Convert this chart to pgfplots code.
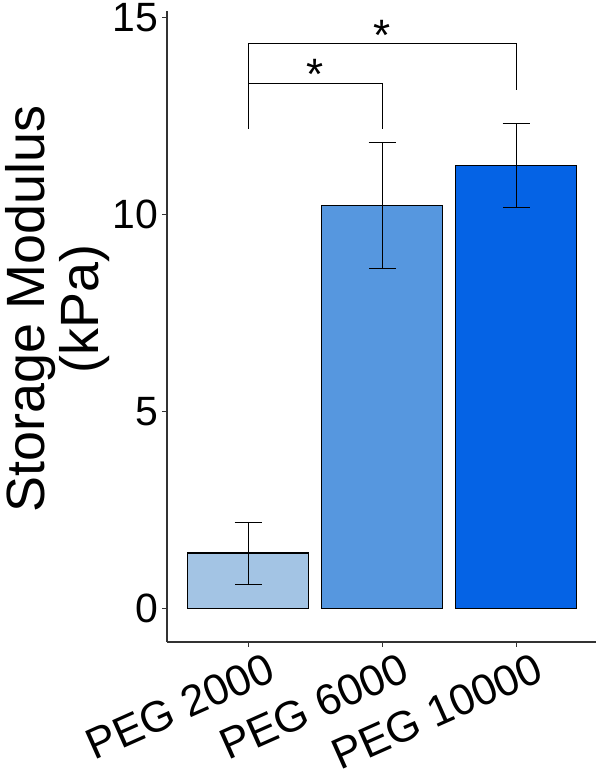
\documentclass[border=0pt]{standalone}
\usepackage{pgfplots}
\pgfplotsset{compat=1.18}
\usepackage{fontspec}
\setmainfont{Liberation Sans}
\definecolor{b1}{HTML}{A3C4E4}
\definecolor{b2}{HTML}{5697DF}
\definecolor{b3}{HTML}{0563E5}
\definecolor{axgray}{HTML}{333333}
\begin{document}
\begin{tikzpicture}
\begin{axis}[
 scale only axis, width=429.4pt, height=631.7pt,
 xmin=-0.605, xmax=2.593, ymin=-0.846, ymax=15.16,
 axis x line=bottom, axis y line=left,
 axis line style={-, axgray, line width=1.5pt},
 xtick={0,1,2}, xticklabels={PEG 2000,PEG 6000,PEG 10000},
 ytick={0,5,10,15},
 tick align=outside, major tick length=5pt, tick style={axgray, line width=1pt},
 /pgf/number format/assume math mode=true,
 yticklabel style={font=\fontsize{41}{41}\selectfont},
 xticklabel style={font=\fontsize{43.5}{43.5}\selectfont, inner sep=0pt, xshift=17.4pt, yshift=-4.6pt, rotate=24, anchor=north east},
 ylabel={Storage Modulus\\(kPa)},
 ylabel style={font=\fontsize{54}{54}\selectfont, align=center, at={(rel axis cs:0,0.528)}, anchor=south, yshift=54pt},
 clip=false,
]
\addplot[ybar, bar width=121.5pt, bar shift=0pt, fill=b1, draw=black, line width=1.1pt,
  error bars/.cd, y dir=both, y explicit,
  error bar style={black, line width=0.8pt},
  error mark options={rotate=90, mark size=13.5pt, black, line width=0.8pt}]
  coordinates {(0,1.41) +- (0,0.79)};
\addplot[ybar, bar width=121.5pt, bar shift=0pt, fill=b2, draw=black, line width=1.1pt,
  error bars/.cd, y dir=both, y explicit,
  error bar style={black, line width=0.8pt},
  error mark options={rotate=90, mark size=13.5pt, black, line width=0.8pt}]
  coordinates {(1,10.24) +- (0,1.60)};
\addplot[ybar, bar width=121.5pt, bar shift=0pt, fill=b3, draw=black, line width=1.1pt,
  error bars/.cd, y dir=both, y explicit,
  error bar style={black, line width=0.8pt},
  error mark options={rotate=90, mark size=13.5pt, black, line width=0.8pt}]
  coordinates {(2,11.25) +- (0,1.07)};
\addplot[black, line width=1pt] coordinates {(0,12.18) (0,14.34) (2,14.34) (2,13.16)};
\addplot[black, line width=1pt] coordinates {(0,13.34) (1,13.34) (1,12.16)};
\node[font=\fontsize{44}{44}\selectfont, anchor=base] at (axis cs:1,14.17) {*};
\node[font=\fontsize{44}{44}\selectfont, anchor=base] at (axis cs:0.5,13.18) {*};
\end{axis}
\path (current axis.south west) ++(-167.3pt,-136.3pt) rectangle ++(600pt,778pt);
\end{tikzpicture}
\end{document}
